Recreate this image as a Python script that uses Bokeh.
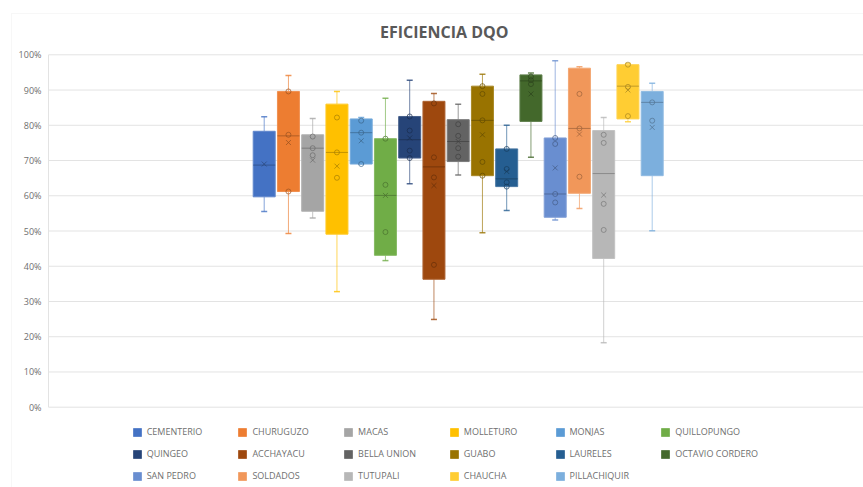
from bokeh.plotting import figure
from bokeh.models import (ColumnDataSource, Legend, LegendItem, Label, BoxAnnotation,
                          Range1d)
from bokeh.embed import file_html
from bokeh.resources import INLINE
from bokeh.core.properties import value

# ---- data: DQO removal efficiency (%) per treatment plant ----
stations = ["CEMENTERIO", "CHURUGUZO", "MACAS", "MOLLETURO", "MONJAS", "QUILLOPUNGO",
            "QUINGEO", "ACCHAYACU", "BELLA UNION", "GUABO", "LAURELES", "OCTAVIO CORDERO",
            "SAN PEDRO", "SOLDADOS", "TUTUPALI", "CHAUCHA", "PILLACHIQUIR"]

whisker_low = [55.5, 49.3, 53.7, 32.8, 69.0, 41.6, 63.4, 24.9, 65.9, 49.5, 55.8, 70.9,
               53.1, 56.4, 18.3, 81.0, 50.1]
q1 = [59.7, 61.2, 55.6, 49.1, 69.0, 43.1, 70.7, 36.3, 69.7, 65.7, 62.6, 81.1,
      53.9, 60.7, 42.2, 81.8, 65.7]
median = [68.7, 77.0, 73.5, 72.3, 77.9, 60.1, 75.9, 68.2, 75.4, 81.4, 64.8, 92.6,
          60.5, 79.1, 66.3, 91.1, 86.5]
q3 = [78.3, 89.6, 77.3, 86.0, 81.8, 76.2, 82.5, 86.8, 81.6, 91.1, 73.3, 94.3,
      76.4, 96.2, 78.5, 97.2, 89.6]
whisker_high = [82.4, 94.1, 81.9, 89.6, 82.2, 87.7, 92.8, 89.0, 86.0, 94.5, 80.0, 94.8,
                98.3, 96.6, 82.2, 97.5, 91.9]
mean = [69.0, 75.1, 70.1, 68.4, 75.6, 60.1, 76.4, 62.9, 75.4, 77.3, 66.9, 88.9,
        67.9, 77.5, 60.2, 90.0, 79.4]
inner_points = [
    [],
    [89.6, 77.3, 61.2],
    [76.8, 73.5, 71.5],
    [82.2, 72.3, 65.1],
    [81.3, 77.9, 69.0],
    [76.2, 63.1, 49.7],
    [82.5, 78.5, 72.8, 70.7],
    [86.2, 70.9, 65.2, 40.4],
    [80.3, 77.0, 73.5, 71.1],
    [91.1, 88.9, 81.4, 69.6, 65.7],
    [73.3, 67.6, 63.8, 62.6],
    [93.8, 92.8, 91.7],
    [76.4, 74.7, 60.5, 58.1],
    [88.9, 79.1, 65.4],
    [77.3, 75.0, 57.7, 50.3],
    [97.2, 90.9, 82.6],
    [86.5, 81.3],
]
y_ticks = [0, 10, 20, 30, 40, 50, 60, 70, 80, 90, 100]
y_tick_labels = ["0%", "10%", "20%", "30%", "40%", "50%", "60%", "70%", "80%", "90%", "100%"]

# ---- styling ----
colors = ["#4472C4", "#ED7D31", "#A5A5A5", "#FFC000", "#5B9BD5", "#70AD47",
          "#264478", "#9E480E", "#636363", "#997300", "#255E91", "#43682B",
          "#698ED0", "#F1975A", "#B7B7B7", "#FFCD33", "#7CAFDD"]


def mix(hex_color, target, t):
    h = hex_color.lstrip("#")
    rgb = [int(h[i:i + 2], 16) for i in (0, 2, 4)]
    out = [round(c + (target - c) * t) for c in rgb]
    return "#%02x%02x%02x" % tuple(out)


dark = [mix(c, 0, 0.35) for c in colors]
edge = [mix(c, 255, 0.15) for c in colors]

FONT = "Open Sans"
W, H = 863, 487
AXIS_PX = 48             # px of the value axis from the left edge
ZERO_PX, HUNDRED_PX = 406.7, 54.3
SLOT = 24.25             # px between neighbouring boxes
FIRST_PX = 263.7         # px of first box centre
BOX_W = 22 / SLOT
CAP = 3 / SLOT

# the frame fills the whole canvas; ranges place 0-100 % and the boxes
x_start = -FIRST_PX / SLOT
x_end = x_start + W / SLOT
x_axis = x_start + AXIS_PX / SLOT
unit = (ZERO_PX - HUNDRED_PX) / 100.0
y_start = -(H - ZERO_PX) / unit
y_end = 100 + HUNDRED_PX / unit

p = figure(width=W, height=H, min_border=0,
           x_range=Range1d(x_start, x_end), y_range=Range1d(y_start, y_end),
           output_backend="svg", toolbar_location=None,
           background_fill_color="white", border_fill_color="white")
p.outline_line_color = None
p.axis.visible = False
p.grid.visible = False

# outer chart border
p.add_layout(BoxAnnotation(left=11, right=W + 40, top=H - 13, bottom=-40,
                           left_units="screen", right_units="screen",
                           top_units="screen", bottom_units="screen",
                           fill_color=None, line_color="#e6e6e6", line_width=1,
                           level="underlay"))

# value grid, axis line and tick labels
p.segment(x0=[x_axis] * len(y_ticks), y0=y_ticks, x1=[x_end] * len(y_ticks), y1=y_ticks,
          line_color="#e3e3e3", line_width=1)
p.segment(x0=[x_axis], y0=[y_ticks[0]], x1=[x_axis], y1=[y_ticks[-1]],
          line_color="#e3e3e3", line_width=1)
p.text(x=[x_axis] * len(y_ticks), y=y_ticks, text=y_tick_labels, x_offset=-7,
       text_align="right", text_baseline="middle", text_font=value(FONT),
       text_font_size="9px", text_color="#6f6f6f")

xs = list(range(len(stations)))
src = ColumnDataSource(dict(
    x=xs, lo=whisker_low, q1=q1, med=median, q3=q3, hi=whisker_high, mean=mean,
    left=[x - BOX_W / 2 for x in xs], right=[x + BOX_W / 2 for x in xs],
    cl=[x - CAP for x in xs], cr=[x + CAP for x in xs],
    color=colors, dark=dark, edge=edge, name=stations))

# whiskers and caps
p.segment(x0="x", y0="q3", x1="x", y1="hi", line_color="color", line_alpha=0.65,
          line_width=1, source=src)
p.segment(x0="x", y0="q1", x1="x", y1="lo", line_color="color", line_alpha=0.65,
          line_width=1, source=src)
p.segment(x0="cl", y0="hi", x1="cr", y1="hi", line_color="color", line_alpha=0.8,
          line_width=1.5, source=src)
p.segment(x0="cl", y0="lo", x1="cr", y1="lo", line_color="color", line_alpha=0.8,
          line_width=1.5, source=src)

# boxes
boxes = p.vbar(x="x", width=BOX_W, bottom="q1", top="q3", fill_color="color",
               line_color="edge", line_width=1, source=src)

# median line and mean marker
p.segment(x0="left", y0="med", x1="right", y1="med", line_color="dark",
          line_alpha=0.7, line_width=1, source=src)
p.scatter(x="x", y="mean", marker="x", size=7, line_color="dark", line_alpha=0.75,
          line_width=1, source=src)

# inner points
px, py, pc = [], [], []
for i, pts in enumerate(inner_points):
    for v in pts:
        px.append(i)
        py.append(v)
        pc.append(dark[i])
p.scatter(x=px, y=py, marker="circle", size=5, fill_color=None, line_color=pc,
          line_alpha=0.7, line_width=1)

# title
p.add_layout(Label(x=443.7, y=H - 31, x_units="screen", y_units="screen",
                   text="EFICIENCIA DQO", text_font=FONT, text_font_style="bold",
                   text_font_size="16px", text_color="#595959", text_align="center",
                   text_baseline="middle"))

# legend: six columns, items run across rows
NCOL = 6
COL_PITCH = 105.7
ITEM_H, SPACING = 13, 9
LEG_TOP = 425.2
for c in range(NCOL):
    idx = list(range(c, len(stations), NCOL))
    items = [LegendItem(label=stations[i], renderers=[boxes], index=i) for i in idx]
    n = len(items)
    h = n * ITEM_H + (n - 1) * SPACING
    leg = Legend(items=items, location=(131.7 + c * COL_PITCH, H - LEG_TOP - h),
                 orientation="vertical", glyph_width=10, glyph_height=10,
                 label_height=ITEM_H, label_standoff=5, spacing=SPACING,
                 padding=0, margin=0, border_line_color=None,
                 background_fill_alpha=0, label_text_font=FONT,
                 label_text_font_size="9px", label_text_color="#6f6f6f")
    p.add_layout(leg)

open("out.html", "w").write(file_html(p, INLINE))
